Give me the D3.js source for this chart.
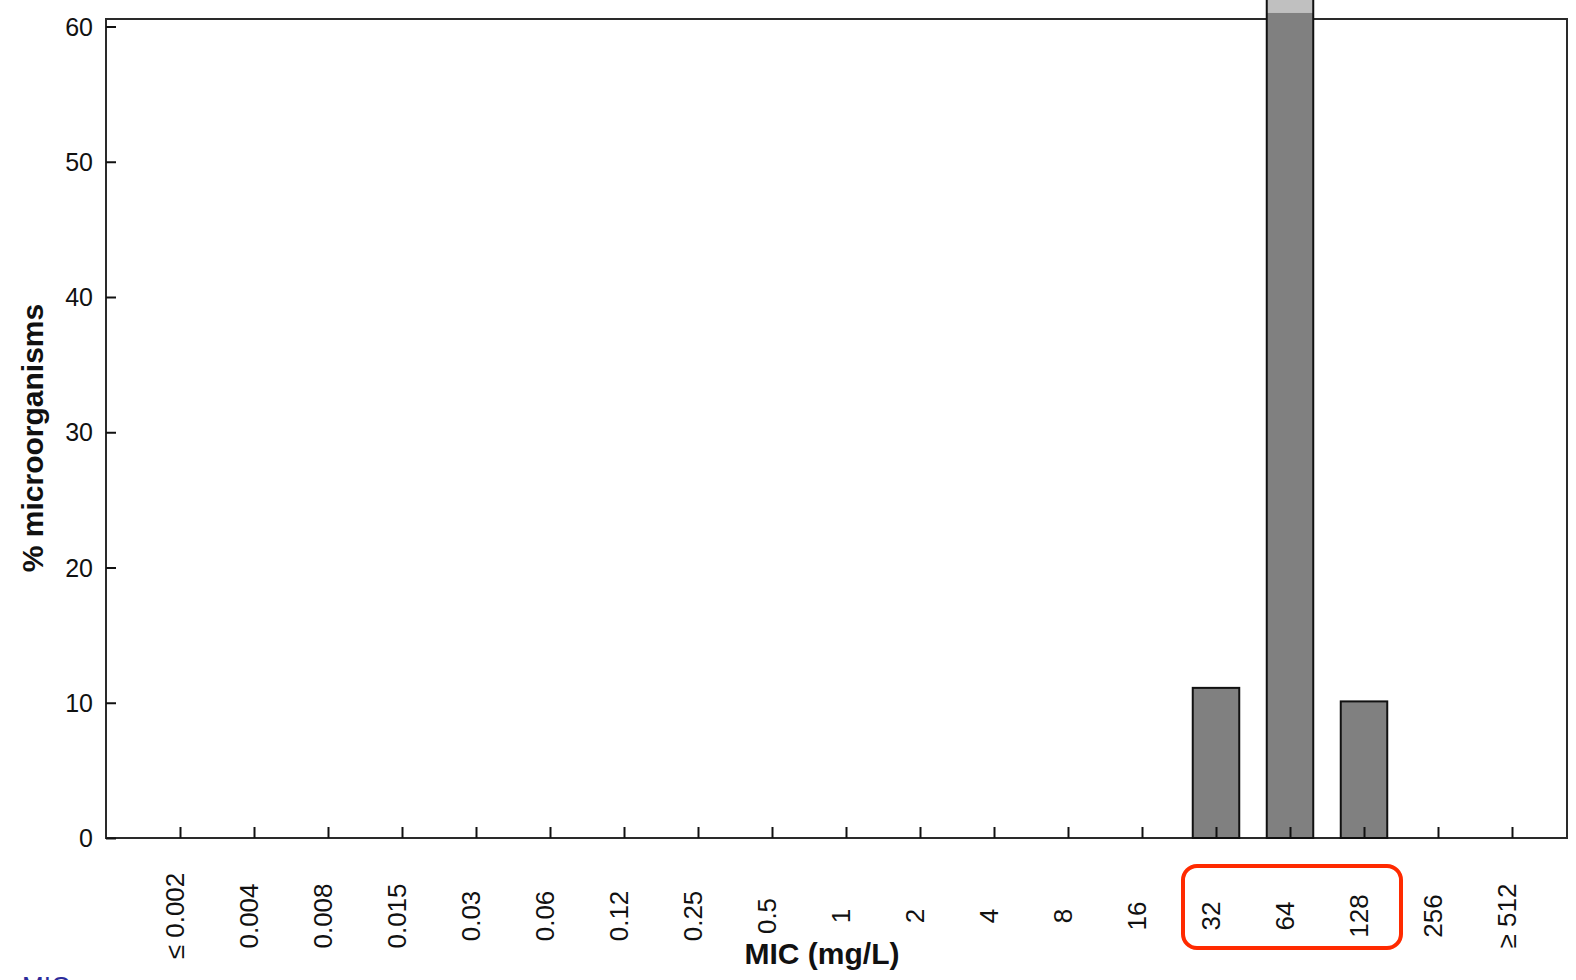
<!DOCTYPE html>
<html>
<head>
<meta charset="utf-8">
<script src="https://cdn.jsdelivr.net/npm/d3@7/dist/d3.min.js"></script>
<style>
  html, body { margin: 0; padding: 0; background: #fff; }
  svg { display: block; }
</style>
</head>
<body>
<svg id="chart" width="1576" height="980"></svg>
<script>
// MIC distribution: % of microorganisms per MIC bin
const micBins = ["≤ 0.002", "0.004", "0.008", "0.015", "0.03", "0.06", "0.12", "0.25", "0.5",
                 "1", "2", "4", "8", "16", "32", "64", "128", "256", "≥ 512"];
// lower (dark) segment of each bar
const pctMain = [0, 0, 0, 0, 0, 0, 0, 0, 0, 0, 0, 0, 0, 0, 11.1, 61.0, 10.1, 0, 0];
// upper (light) segment stacked on top
const pctUpper = [0, 0, 0, 0, 0, 0, 0, 0, 0, 0, 0, 0, 0, 0, 0, 17.8, 0, 0, 0];
const yTicks = [0, 10, 20, 30, 40, 50, 60];
const highlighted = ["32", "64", "128"];

const svg = d3.select("#chart");
const frame = { left: 106, right: 1567, top: 19, bottom: 838 };

const x = d3.scalePoint().domain(micBins).range([180, 1512]);
const y = d3.scaleLinear().domain([0, 60]).range([838, 26.5]);
const barW = 46.5;

const rows = micBins
  .map((b, i) => ({ bin: b, main: pctMain[i], upper: pctUpper[i] }))
  .filter(d => d.main + d.upper > 0);

// frame box
svg.append("rect")
  .attr("x", frame.left).attr("y", frame.top)
  .attr("width", frame.right - frame.left)
  .attr("height", frame.bottom - frame.top)
  .attr("fill", "none")
  .attr("stroke", "#2a2a2a")
  .attr("stroke-width", 2);

const bars = svg.append("g");
// whole stack in the light tone
bars.selectAll("rect.stack")
  .data(rows)
  .join("rect")
  .attr("class", "stack")
  .attr("x", d => x(d.bin) - barW / 2)
  .attr("width", barW)
  .attr("y", d => y(d.main + d.upper))
  .attr("height", d => y(0) - y(d.main + d.upper))
  .attr("fill", "#c0c0c0");
// dark lower segment
bars.selectAll("rect.main")
  .data(rows)
  .join("rect")
  .attr("class", "main")
  .attr("x", d => x(d.bin) - barW / 2)
  .attr("width", barW)
  .attr("y", d => y(d.main))
  .attr("height", d => y(0) - y(d.main))
  .attr("fill", "#808080");
// outline of the full bar
bars.selectAll("rect.outline")
  .data(rows)
  .join("rect")
  .attr("class", "outline")
  .attr("x", d => x(d.bin) - barW / 2)
  .attr("width", barW)
  .attr("y", d => y(d.main + d.upper))
  .attr("height", d => y(0) - y(d.main + d.upper))
  .attr("fill", "none")
  .attr("stroke", "#111")
  .attr("stroke-width", 2);

// x axis: ticks pointing into the plot, rotated labels below
const xAxis = d3.axisBottom(x).tickSize(-11).tickFormat("");
const gx = svg.append("g").attr("transform", `translate(0,${frame.bottom})`).call(xAxis);
gx.select(".domain").remove();
gx.selectAll(".tick line").attr("stroke", "#111").attr("stroke-width", 2);

svg.append("g").selectAll("text.xlab")
  .data(micBins)
  .join("text")
  .attr("class", "xlab")
  .attr("transform", d => `translate(${x(d) + 4},916) rotate(-90)`)
  .attr("text-anchor", "middle")
  .attr("font-family", "Liberation Sans, Arial, sans-serif")
  .attr("font-size", 26)
  .attr("fill", "#111")
  .text(d => d);

// y axis: ticks pointing into the plot
const yAxis = d3.axisLeft(y).tickValues(yTicks).tickSize(-10).tickFormat("");
const gy = svg.append("g").attr("transform", `translate(${frame.left},0)`).call(yAxis);
gy.select(".domain").remove();
gy.selectAll(".tick line").attr("stroke", "#111").attr("stroke-width", 2);

svg.append("g").selectAll("text.ylab")
  .data(yTicks)
  .join("text")
  .attr("x", 93)
  .attr("y", d => y(d))
  .attr("dy", "0.36em")
  .attr("text-anchor", "end")
  .attr("font-family", "Liberation Sans, Arial, sans-serif")
  .attr("font-size", 25)
  .attr("fill", "#111")
  .text(d => d);

// axis titles
svg.append("text")
  .attr("transform", "translate(43,438) rotate(-90)")
  .attr("text-anchor", "middle")
  .attr("font-family", "Liberation Sans, Arial, sans-serif")
  .attr("font-weight", "bold")
  .attr("font-size", 30)
  .attr("fill", "#111")
  .text("% microorganisms");

svg.append("text")
  .attr("x", 822)
  .attr("y", 964)
  .attr("text-anchor", "middle")
  .attr("font-family", "Liberation Sans, Arial, sans-serif")
  .attr("font-weight", "bold")
  .attr("font-size", 30)
  .attr("fill", "#111")
  .text("MIC (mg/L)");

// link text running off the page bottom
svg.append("text")
  .attr("x", 22)
  .attr("y", 995)
  .attr("font-family", "Liberation Sans, Arial, sans-serif")
  .attr("font-size", 26)
  .attr("fill", "#2b2b9a")
  .text("MIC");

// highlight box around the modal bins
const hx0 = x(highlighted[0]) - 33, hx1 = x(highlighted[highlighted.length - 1]) + 37;
svg.append("rect")
  .attr("x", hx0).attr("y", 866)
  .attr("width", hx1 - hx0).attr("height", 82)
  .attr("rx", 14).attr("ry", 14)
  .attr("fill", "none")
  .attr("stroke", "#ff2a00")
  .attr("stroke-width", 4);
</script>
</body>
</html>
